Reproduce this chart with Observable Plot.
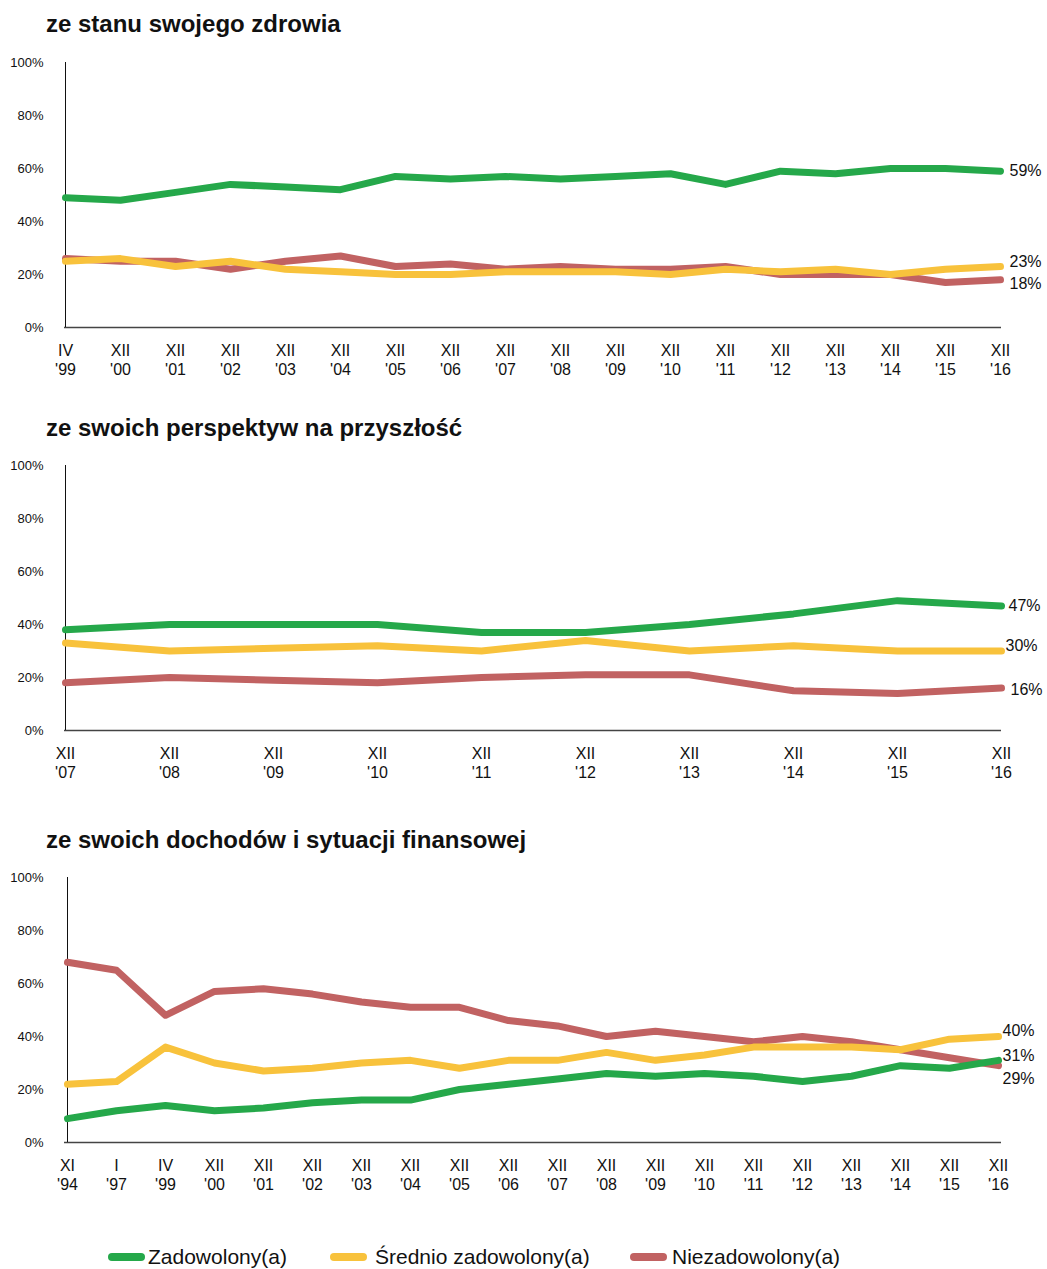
<!DOCTYPE html>
<html><head><meta charset="utf-8">
<script src="https://cdn.jsdelivr.net/npm/d3@7"></script>
<script src="https://cdn.jsdelivr.net/npm/@observablehq/plot@0.6"></script>
<style>
body{margin:0;background:#fff;font-family:"Liberation Sans",Arial,sans-serif;color:#111;}
#root{position:relative;width:1047px;height:1269px;overflow:hidden;}
.title{position:absolute;left:46px;font-weight:bold;font-size:24px;line-height:26px;white-space:nowrap;}
.chart{position:absolute;left:0;}
.legend-item{position:absolute;top:1244px;display:flex;align-items:center;gap:3px;font-size:21px;line-height:26px;white-space:nowrap;}
.swatch{display:inline-block;width:37px;height:8px;border-radius:4px;}
</style></head><body><div id="root"></div><script>
// ---- series ----
const seriesNames = ["Zadowolony(a)", "Średnio zadowolony(a)", "Niezadowolony(a)"];
const seriesColors = ["#25a84a", "#f8c23c", "#c16262"];

// ---- chart 1: ze stanu swojego zdrowia ----
const healthTitle = "ze stanu swojego zdrowia";
const healthMonths = ["IV","XII","XII","XII","XII","XII","XII","XII","XII","XII","XII","XII","XII","XII","XII","XII","XII","XII"];
const healthYears = ["'99","'00","'01","'02","'03","'04","'05","'06","'07","'08","'09","'10","'11","'12","'13","'14","'15","'16"];
const healthZad  = [49,48,51,54,53,52,57,56,57,56,57,58,54,59,58,60,60,59];
const healthSred = [25,26,23,25,22,21,20,20,21,21,21,20,22,21,22,20,22,23];
const healthNiez = [26,25,25,22,25,27,23,24,22,23,22,22,23,20,20,20,17,18];

// ---- chart 2: ze swoich perspektyw na przyszłość ----
const perspTitle = "ze swoich perspektyw na przyszłość";
const perspMonths = ["XII","XII","XII","XII","XII","XII","XII","XII","XII","XII"];
const perspYears = ["'07","'08","'09","'10","'11","'12","'13","'14","'15","'16"];
const perspZad  = [38,40,40,40,37,37,40,44,49,47];
const perspSred = [33,30,31,32,30,34,30,32,30,30];
const perspNiez = [18,20,19,18,20,21,21,15,14,16];

// ---- chart 3: ze swoich dochodów i sytuacji finansowej ----
const finTitle = "ze swoich dochodów i sytuacji finansowej";
const finMonths = ["XI","I","IV","XII","XII","XII","XII","XII","XII","XII","XII","XII","XII","XII","XII","XII","XII","XII","XII","XII"];
const finYears = ["'94","'97","'99","'00","'01","'02","'03","'04","'05","'06","'07","'08","'09","'10","'11","'12","'13","'14","'15","'16"];
const finZad  = [9,12,14,12,13,15,16,16,20,22,24,26,25,26,25,23,25,29,28,31];
const finSred = [22,23,36,30,27,28,30,31,28,31,31,34,31,33,36,36,36,35,39,40];
const finNiez = [68,65,48,57,58,56,53,51,51,46,44,40,42,40,38,40,38,35,32,29];

const yTicks = [0, 20, 40, 60, 80, 100];

const root = document.getElementById("root");

function makeChart({title, months, years, series, titleTop, svgTop, labelDy, labelDx}) {
  const t = document.createElement("div");
  t.className = "title";
  t.style.top = titleTop + "px";
  t.textContent = title;
  root.appendChild(t);

  const labels = months.map((m, i) => m + "\n" + years[i]);
  const sets = series.map((vals, s) => vals.map((v, i) => ({label: labels[i], value: v, s})));
  const drawOrder = [2, 1, 0];
  const marks = [
    Plot.ruleY([0], {stroke: "#444", strokeWidth: 1.5}),
    Plot.ruleX([labels[0]], {y1: 0, y2: 100, stroke: "#111", strokeWidth: 1}),
    Plot.axisY({ticks: yTicks, tickFormat: d => d + "%", tickSize: 0, tickPadding: 21, fontSize: 13, label: null}),
    Plot.axisX({tickSize: 0, tickPadding: 15, fontSize: 16, lineHeight: 1.2, label: null, tickFormat: d => d})
  ];
  for (const s of drawOrder) {
    marks.push(Plot.line(sets[s], {x: "label", y: "value", stroke: seriesColors[s], strokeWidth: 7, strokeLinecap: "round", strokeLinejoin: "round"}));
  }
  for (const s of [0, 1, 2]) {
    const last = sets[s][sets[s].length - 1];
    marks.push(Plot.text([last], {x: "label", y: "value", text: d => d.value + "%", textAnchor: "start", dx: labelDx[s], dy: labelDy[s], fontSize: 16, fill: "#111"}));
  }
  const svg = Plot.plot({
    width: 1047,
    height: 345,
    marginTop: 22,
    marginBottom: 58,
    marginLeft: 64,
    marginRight: 46,
    style: {fontFamily: '"Liberation Sans", Arial, sans-serif', color: "#111", background: "transparent", overflow: "visible"},
    x: {type: "point", domain: labels, padding: 0},
    y: {domain: [0, 100]},
    marks
  });
  svg.classList.add("chart");
  svg.style.top = svgTop + "px";
  root.appendChild(svg);
}

makeChart({title: healthTitle, months: healthMonths, years: healthYears,
  series: [healthZad, healthSred, healthNiez], titleTop: 11, svgTop: 40,
  labelDy: [0, -5, 4], labelDx: [9, 9, 9]});
makeChart({title: perspTitle, months: perspMonths, years: perspYears,
  series: [perspZad, perspSred, perspNiez], titleTop: 415, svgTop: 443,
  labelDy: [0, -5, 2], labelDx: [7, 4, 9]});
makeChart({title: finTitle, months: finMonths, years: finYears,
  series: [finZad, finSred, finNiez], titleTop: 827, svgTop: 855,
  labelDy: [-4, -6, 13], labelDx: [4, 4, 4]});

// legend
const legendLefts = [108, 330, 630];
seriesNames.forEach((name, i) => {
  const item = document.createElement("div");
  item.className = "legend-item";
  item.style.left = legendLefts[i] + "px";
  const sw = document.createElement("span");
  sw.className = "swatch";
  sw.style.background = seriesColors[i];
  const tx = document.createElement("span");
  tx.textContent = name;
  item.appendChild(sw);
  item.appendChild(tx);
  if (i > 0) item.style.gap = (i === 1 ? 8 : 5) + "px";
  root.appendChild(item);
});
</script></body></html>
